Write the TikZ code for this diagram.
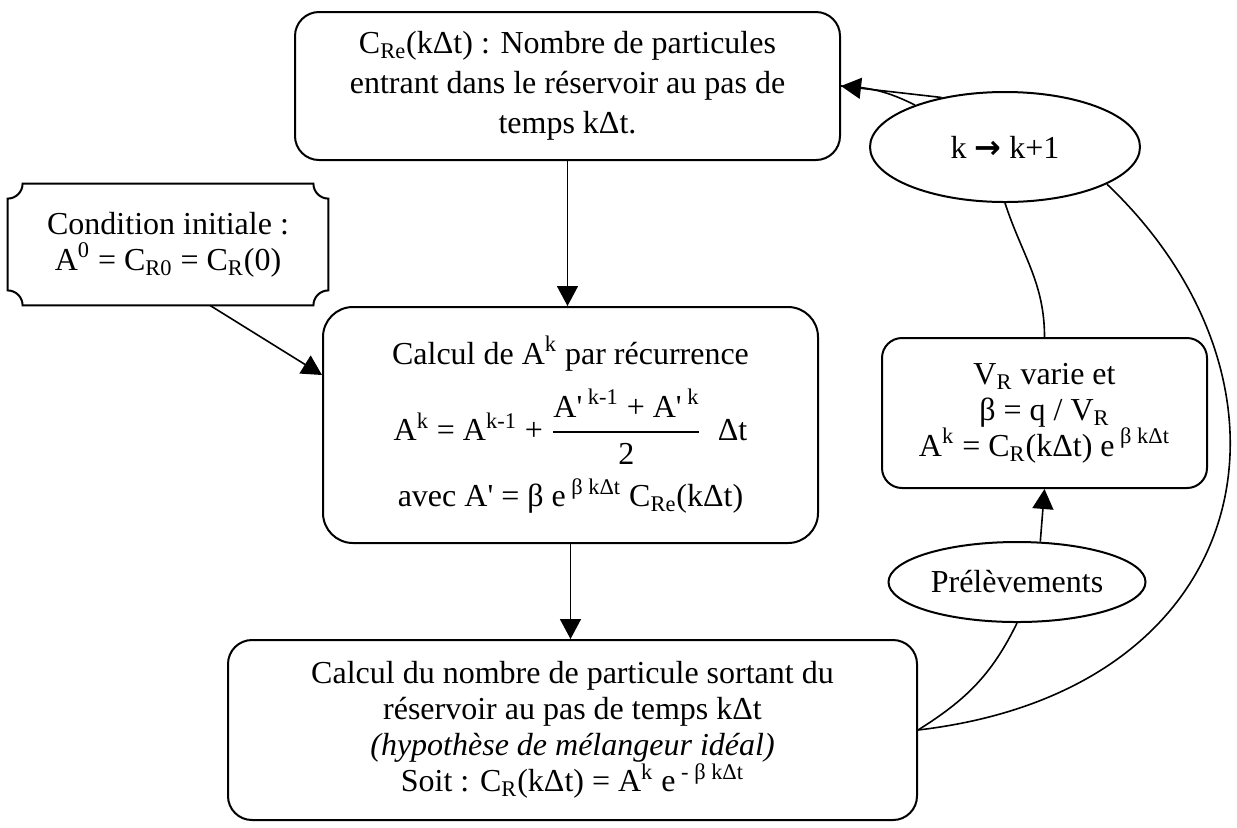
\documentclass[tikz,border=0pt]{standalone}
\usepackage{fontspec}
\usepackage{amsmath}
\setmainfont{Liberation Serif}
\newfontfamily\arrowfont{DejaVu Sans}
\usetikzlibrary{arrows.meta,shapes.geometric}
\newlength{\notch}
\setlength{\notch}{7.5pt}
\tikzset{
  stepbox/.style={draw, line width=1pt, rounded corners=12pt, align=center, inner sep=0pt, font=\fontsize{16}{18}\selectfont},
  notchbox/.style={align=center, inner sep=0pt, font=\fontsize{16}{18}\selectfont},
  loopnode/.style={draw, ellipse, line width=1pt, inner sep=0pt, align=center, font=\fontsize{16}{18}\selectfont},
  arrow/.style={-{Triangle[length=10pt, width=10.5pt]}, line width=0.8pt},
  link/.style={line width=0.8pt}
}

\begin{document}
\begin{tikzpicture}[x=0.5pt, y=0.5pt]
  \useasboundingbox (0,0) rectangle (1237,-827);

  \node[stepbox, minimum width=272.5pt, minimum height=74pt] (entree) at (567.5,-86)
    {C\textsubscript{Re}(kΔt) : Nombre de particules\\[2pt]entrant dans le réservoir au pas de\\[2pt]temps kΔt.};
  \node[notchbox, minimum width=160pt, minimum height=60.5pt] (cond) at (168,-244.5)
    {Condition initiale :\\A\textsuperscript{0} = C\textsubscript{R0} = C\textsubscript{R}(0)};
  \node[stepbox, rounded corners=15pt, minimum width=247.5pt, minimum height=118pt] (calcul) at (570.5,-425)
    {Calcul de A\textsuperscript{k} par récurrence\\[8pt]
     A\textsuperscript{k} = A\textsuperscript{k-1} + $\dfrac{\text{A\textquotesingle\textsuperscript{ k-1} + A\textquotesingle\textsuperscript{ k}}}{\text{2}}$\ \ Δt\\[6pt]
     avec A\textquotesingle{} = β e\textsuperscript{ β kΔt} C\textsubscript{Re}(kΔt)};
  \node[stepbox, minimum width=344.5pt, minimum height=90pt] (sortie) at (572.5,-730)
    {Calcul du nombre de particule sortant du\\réservoir au pas de temps kΔt\\\textit{(hypothèse de mélangeur idéal)}\\Soit : C\textsubscript{R}(kΔt) = A\textsuperscript{k} e\textsuperscript{ - β kΔt}};
  \node[loopnode, minimum width=135pt, minimum height=55pt] (incr) at (1005,-147)
    {k {\arrowfont\bfseries →} k+1};
  \node[stepbox, rounded corners=10pt, minimum width=162.5pt, minimum height=75pt] (volume) at (1044.5,-413)
    {V\textsubscript{R} varie et\\β = q / V\textsubscript{R}\\A\textsuperscript{k} = C\textsubscript{R}(kΔt) e\textsuperscript{ β kΔt}};
  \node[loopnode, minimum width=128.5pt, minimum height=40pt] (prel) at (1017,-582)
    {Prélèvements};

  % frame of the initial condition, notched corners
  \draw[line width=1pt] ([xshift=\notch]cond.north west) -- ([xshift=-\notch]cond.north east)
    arc[start angle=180, end angle=270, radius=\notch] -- ([yshift=\notch]cond.south east)
    arc[start angle=90, end angle=180, radius=\notch] -- ([xshift=\notch]cond.south west)
    arc[start angle=0, end angle=90, radius=\notch] -- ([yshift=-\notch]cond.north west)
    arc[start angle=270, end angle=360, radius=\notch] -- cycle;

  \draw[arrow] (entree.south) -- (entree.south |- calcul.north);
  \draw[arrow] ([xshift=21pt]cond.south) -- ([yshift=25pt]calcul.west);
  \draw[arrow] (calcul.south) -- (calcul.south |- sortie.north);
  \draw[arrow] (prel.60) -- (volume.south);
  \draw[link] (volume.north) to[out=90, in=-72] (incr.south);
  \draw[link] (sortie.east) to[out=32, in=-116] (prel.south);
  \draw[link] (sortie.east) .. controls (1260,-690) and (1318,-385) .. (incr.-20);
  \draw[arrow] (incr.142) -- (entree.east);
  \draw[link] (incr.155) to[bend right=12] (entree.east);
\end{tikzpicture}
\end{document}
